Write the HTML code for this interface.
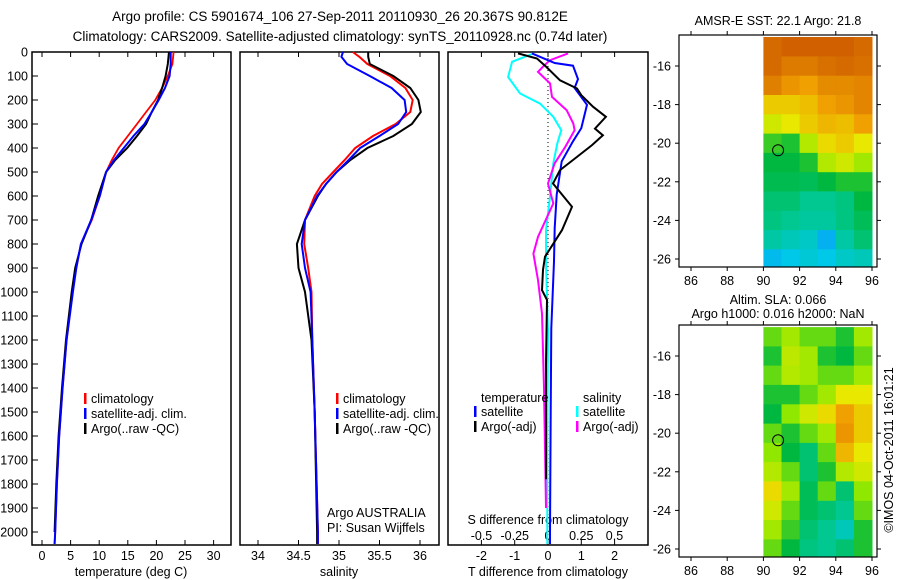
<!DOCTYPE html>
<html><head><meta charset="utf-8"><style>
html,body{margin:0;padding:0;background:#fff;}
svg{display:block;font-family:"Liberation Sans",sans-serif;}
</style></head><body>
<svg id="fig" width="900" height="580" viewBox="0 0 900 580" xmlns="http://www.w3.org/2000/svg">
<g font-size="13.5" text-anchor="middle">
<text x="340" y="21">Argo profile: CS 5901674_106 27-Sep-2011 20110930_26 20.367S 90.812E</text>
<text x="340" y="41">Climatology: CARS2009. Satellite-adjusted climatology: synTS_20110928.nc (0.74d later)</text>
</g>
<g id="g1"></g>
<g id="g2"></g>
<g id="g3"></g>
<g id="m1"></g>
<g id="m2"></g>
<text x="0" y="0" font-size="12.5" text-anchor="middle" transform="translate(893,450) rotate(-90)">©IMOS 04-Oct-2011 16:01:21</text>
</svg>
<script>
// ---- data ----
const depthT=[0,50,100,150,200,250,300,350,400,450,500,600,700,800,900,1000,1200,1400,1600,1800,2000,2050];
const tempClim=[23.0,22.8,22.0,21.0,19.8,18.2,16.6,15.0,13.4,12.2,11.2,10.1,8.7,6.8,6.0,5.3,4.3,3.6,3.0,2.6,2.3,2.2];
const tempSat=[22.5,22.5,22.3,21.5,20.4,19.2,17.9,16.0,14.3,12.6,11.2,10.1,8.6,6.8,6.0,5.4,4.3,3.6,3.0,2.6,2.3,2.2];
const depthArgo=[0,50,100,150,200,250,300,350,400,450,500,600,700,800,900,1000,1200,1400,1600,1800,2000];
const tempArgo=[22.2,22.0,21.6,21.0,20.3,19.2,18.2,16.6,14.9,12.8,11.2,9.8,8.6,6.9,5.8,5.2,4.2,3.5,2.9,2.5,2.2];
const depthS=[0,20,50,100,150,200,250,300,350,400,450,500,550,600,700,800,900,1000,1200,1500,2000,2050];
const salClim=[35.17,35.25,35.35,35.63,35.82,35.91,35.88,35.70,35.42,35.20,35.07,34.93,34.79,34.70,34.58,34.57,34.62,34.66,34.67,34.70,34.74,34.74];
const salSat=[35.05,35.03,35.10,35.38,35.65,35.81,35.83,35.73,35.50,35.26,35.12,34.97,34.84,34.73,34.58,34.54,34.58,34.65,34.67,34.70,34.74,34.74];
const salArgo=[35.36,35.36,35.38,35.67,35.88,35.98,36.01,35.90,35.67,35.35,35.14,34.97,34.84,34.74,34.58,34.48,34.50,34.58,34.66,34.70,34.73,34.73];
const dDepthTs=[6,46,57,113,150,220,317,372,456,594,733,872,1150,1500,2000,2050];
const dTsat=[-0.48,0.2,0.75,0.9,0.8,1.17,1.0,0.75,0.41,0.26,0.2,0.18,0.1,0.08,0.06,0.06];
const dDepthTa=[6,27,62,118,152,180,228,270,319,347,388,437,492,548,645,742,853,908,992,1033,1300,1780];
const dTargo=[-0.9,-0.33,-0.05,0.36,0.87,1.0,1.35,1.74,1.41,1.65,1.32,0.87,0.36,0.15,0.72,0.42,-0.09,-0.15,-0.18,-0.03,-0.06,-0.06];
const dDepthSs=[6,41,104,173,215,270,326,381,464,603,742,881,1158,1600,2050];
const dSsat=[-0.11,-0.27,-0.3,-0.21,-0.06,0.04,0.1,0.07,0.04,0.015,-0.015,-0.015,0,-0.005,-0.005];
const dDepthSa=[6,34,62,83,131,187,242,298,326,395,464,548,631,770,840,950,1090,1400,1900];
const dSargo=[0.15,0.015,-0.04,-0.075,0.015,0.03,0.14,0.19,0.2,0.13,0.05,0,0.04,-0.075,-0.11,-0.075,-0.045,-0.03,-0.015];
const depthTicks=[0,100,200,300,400,500,600,700,800,900,1000,1100,1200,1300,1400,1500,1600,1700,1800,1900,2000];
const tempTicks=[0,5,10,15,20,25,30];
const salTicks=[34,34.5,35,35.5,36];
const dTTicks=[-2,-1,0,1,2];
const dSTicks=[-0.5,-0.25,0,0.25,0.5];
const lonTicks=[86,88,90,92,94,96];
const latTicks=[-16,-18,-20,-22,-24,-26];
const mapLon=[90.5,91.5,92.5,93.5,94.5,95.5];
const mapLat=[-15,-16,-17,-18,-19,-20,-21,-22,-23,-24,-25,-26];
const sst=[
[0.88,0.9,0.9,0.92,0.9,0.88],[0.88,0.85,0.85,0.87,0.88,0.87],[0.84,0.8,0.78,0.82,0.82,0.83],
[0.72,0.72,0.74,0.78,0.8,0.83],[0.65,0.68,0.72,0.75,0.74,0.78],[0.52,0.5,0.62,0.7,0.72,0.68],
[0.48,0.48,0.5,0.62,0.65,0.6],[0.46,0.46,0.45,0.48,0.5,0.5],[0.42,0.42,0.38,0.38,0.4,0.48],
[0.4,0.38,0.36,0.36,0.4,0.45],[0.35,0.32,0.3,0.2,0.35,0.42],[0.22,0.25,0.28,0.25,0.3,0.32]];
const sla=[
[0.55,0.6,0.55,0.55,0.5,0.6],[0.5,0.63,0.6,0.5,0.48,0.55],[0.55,0.62,0.6,0.55,0.55,0.6],
[0.5,0.5,0.55,0.6,0.68,0.68],[0.48,0.58,0.65,0.7,0.78,0.72],[0.55,0.5,0.55,0.6,0.8,0.72],
[0.58,0.48,0.42,0.55,0.75,0.68],[0.62,0.55,0.42,0.5,0.62,0.65],[0.7,0.6,0.45,0.55,0.42,0.58],
[0.65,0.55,0.45,0.42,0.38,0.55],[0.6,0.52,0.42,0.38,0.32,0.5],[0.55,0.48,0.4,0.38,0.42,0.5]];
const floatLon=90.812, floatLat=-20.367;

const NS="http://www.w3.org/2000/svg";
function mk(parent,tag,attrs,text){const e=document.createElementNS(NS,tag);for(const k in attrs)e.setAttribute(k,attrs[k]);if(text!==undefined)e.textContent=text;parent.appendChild(e);return e;}
const yD=d=>52+d*0.24;
const xT=t=>42+t*5.72;
const xS=s=>258+(s-34)*81;
const xDT=t=>548+t*33.3;
const xDS=s=>548+s*133;
const TOP=52,BOT=545;

function frame(g,x0,x1){const r=mk(g,'rect',{x:x0,y:TOP,width:x1-x0,height:BOT-TOP,fill:'none',stroke:'#000','stroke-width':1.5});
}
function line(g,xs,ds,fx,color,w,name){const p=xs.map((v,i)=>fx(v).toFixed(1)+','+yD(ds[i]).toFixed(1)).join(' ');
const e=mk(g,'polyline',{points:p,fill:'none',stroke:color,'stroke-width':w,'stroke-linejoin':'miter'});
}
function xticks(g,ticks,fx,labelY,fmt){ticks.forEach(t=>{const x=fx(t);
mk(g,'line',{x1:x,x2:x,y1:TOP,y2:TOP+5,stroke:'#000'});mk(g,'line',{x1:x,x2:x,y1:BOT,y2:BOT-5,stroke:'#000'});
if(labelY){const e=mk(g,'text',{x:x,y:labelY,'font-size':12.5,'text-anchor':'middle'},fmt?fmt(t):t);
}});}
function legend(g,x,y,items){items.forEach((it,i)=>{const yy=y+i*15;
mk(g,'rect',{x:x-7,y:yy-10,width:2.5,height:11,fill:it[1]});
const e=mk(g,'text',{x:x,y:yy,'font-size':12.5},it[0]);
});}

// panel 1
const g1=document.getElementById('g1');
frame(g1,32,231);
depthTicks.forEach(d=>{const y=yD(d);mk(g1,'line',{x1:32,x2:38,y1:y,y2:y,stroke:'#000'});
const e=mk(g1,'text',{x:28,y:y+4.5,'font-size':12.5,'text-anchor':'end'},d);
});
xticks(g1,tempTicks,xT,560);
line(g1,tempClim,depthT,xT,'#f00',1.8,'temp-climatology-line');
line(g1,tempArgo,depthArgo,xT,'#000',2,'temp-argo-line');
line(g1,tempSat,depthT,xT,'#00f',2,'temp-satellite-line');
mk(g1,'text',{x:131,y:576,'font-size':12.5,'text-anchor':'middle'},'temperature (deg C)');
legend(g1,91,403,[['climatology','#f00'],['satellite-adj. clim.','#00f'],['Argo(..raw -QC)','#000']]);

// panel 2
const g2=document.getElementById('g2');
frame(g2,240,439);
xticks(g2,salTicks,xS,560);
line(g2,salClim,depthS,xS,'#f00',2,'sal-climatology-line');
line(g2,salArgo,depthS,xS,'#000',2,'sal-argo-line');
line(g2,salSat,depthS,xS,'#00f',2,'sal-satellite-line');
mk(g2,'text',{x:339,y:576,'font-size':12.5,'text-anchor':'middle'},'salinity');
legend(g2,343,403,[['climatology','#f00'],['satellite-adj. clim.','#00f'],['Argo(..raw -QC)','#000']]);
mk(g2,'text',{x:327,y:517,'font-size':12.5},'Argo AUSTRALIA');
mk(g2,'text',{x:327,y:532,'font-size':12.5},'PI: Susan Wijffels');

// panel 3
const g3=document.getElementById('g3');
frame(g3,448,648);
mk(g3,'line',{x1:548,x2:548,y1:TOP+2,y2:BOT-2,stroke:'#000','stroke-dasharray':'1,3'});
xticks(g3,dTTicks,xDT,560);
dSTicks.forEach(t=>{const e=mk(g3,'text',{x:xDS(t),y:540,'font-size':12.5,'text-anchor':'middle'},t);
});
mk(g3,'text',{x:548,y:524,'font-size':12.5,'text-anchor':'middle'},'S difference from climatology');
mk(g3,'text',{x:548,y:576,'font-size':12.5,'text-anchor':'middle'},'T difference from climatology');
line(g3,dSsat,dDepthSs,xDS,'#0ff',2,'dS-satellite-line');
line(g3,dSargo,dDepthSa,xDS,'#f0f',2,'dS-argo-line');
line(g3,dTsat,dDepthTs,xDT,'#00f',2,'dT-satellite-line');
line(g3,dTargo,dDepthTa,xDT,'#000',2,'dT-argo-line');
mk(g3,'text',{x:481,y:402,'font-size':12.5},'temperature');
mk(g3,'text',{x:583,y:402,'font-size':12.5},'salinity');
legend(g3,481,416,[['satellite','#00f'],['Argo(-adj)','#000']]);
legend(g3,583,416,[['satellite','#0ff'],['Argo(-adj)','#f0f']]);

// maps
const stops=[[0.1,[16,128,255]],[0.25,[0,200,232]],[0.38,[0,200,144]],[0.48,[0,184,64]],[0.58,[144,232,0]],[0.68,[232,232,0]],[0.78,[240,160,0]],[0.9,[208,96,0]]];
function cmap(v){if(v<=stops[0][0])return 'rgb('+stops[0][1]+')';
for(let i=1;i<stops.length;i++){if(v<=stops[i][0]){const a=stops[i-1],b=stops[i],f=(v-a[0])/(b[0]-a[0]);
return 'rgb('+a[1].map((c,k)=>Math.round(c+(b[1][k]-c)*f)).join(',')+')';}}
return 'rgb('+stops[stops.length-1][1]+')';}
function map(id,top,bot,vals,titles,titleYs){
const g=document.getElementById(id);
const xL=lon=>691+(lon-86)*18.1;
const lat16=top+31, yL=lat=>lat16+(-16-lat)*19.3;
vals.forEach((row,i)=>row.forEach((v,j)=>{const x0=xL(mapLon[j]-0.5),x1=Math.min(xL(mapLon[j]+0.5),877);
const y0=Math.max(yL(mapLat[i]+0.5),top),y1=Math.min(yL(mapLat[i]-0.5),bot);
const c=mk(g,'rect',{x:x0.toFixed(1),y:y0.toFixed(1),width:(x1-x0+0.5).toFixed(1),height:(y1-y0+0.5).toFixed(1),fill:cmap(v)});
}));
const r=mk(g,'rect',{x:679,y:top,width:198,height:bot-top,fill:'none',stroke:'#000','stroke-width':1.2});

lonTicks.forEach(l=>{const x=xL(l);mk(g,'line',{x1:x,x2:x,y1:top,y2:top-4,stroke:'#000'});mk(g,'line',{x1:x,x2:x,y1:bot,y2:bot+4,stroke:'#000'});
const e=mk(g,'text',{x:x,y:bot+18,'font-size':12.5,'text-anchor':'middle'},l);});
latTicks.forEach(l=>{const y=yL(l);mk(g,'line',{x1:679,x2:675,y1:y,y2:y,stroke:'#000'});mk(g,'line',{x1:877,x2:881,y1:y,y2:y,stroke:'#000'});
const e=mk(g,'text',{x:671,y:y+4.5,'font-size':12.5,'text-anchor':'end'},l);});
const c=mk(g,'circle',{cx:xL(floatLon),cy:yL(floatLat),r:5.5,fill:'none',stroke:'#000','stroke-width':1});

titles.forEach((t,i)=>{const e=mk(g,'text',{x:778,y:titleYs[i],'font-size':12.5,'text-anchor':'middle'},t);});
}
map('m1',35,267,sst,['AMSR-E SST: 22.1 Argo: 21.8'],[25]);
map('m2',325,557,sla,['Altim. SLA: 0.066','Argo h1000: 0.016 h2000: NaN'],[304,318]);
</script>
</body></html>
